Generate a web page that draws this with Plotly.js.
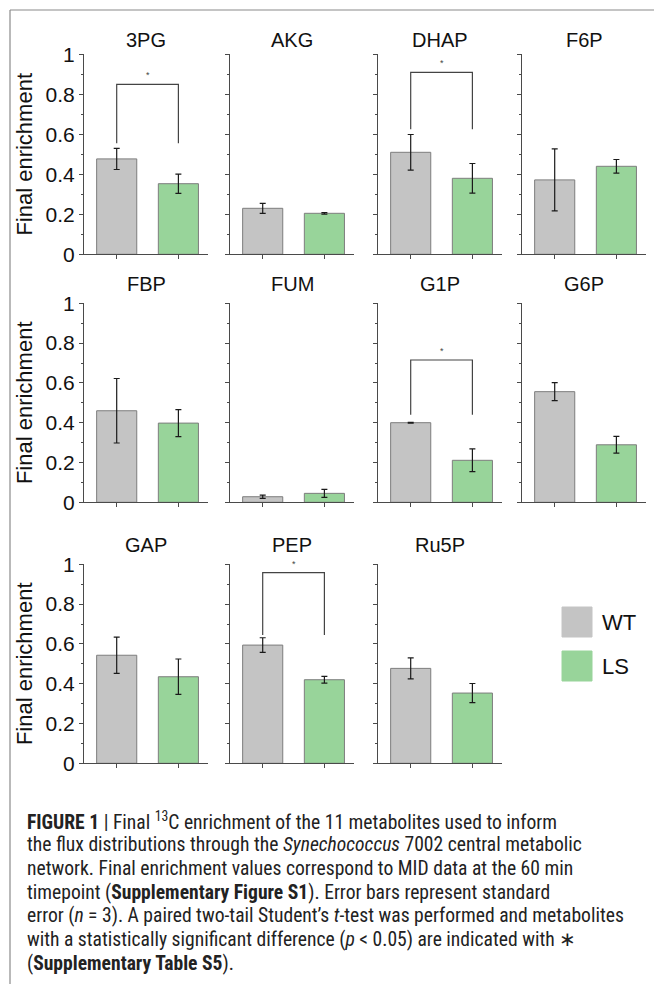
<!DOCTYPE html>
<html>
<head>
<meta charset="utf-8">
<script src="https://cdn.plot.ly/plotly-3.0.1.min.js"></script>
<style>
  html, body { margin: 0; padding: 0; background: #ffffff; }
  #chart { width: 654px; height: 984px; }
</style>
</head>
<body>
<div id="chart"></div>
<script>
// ---------------- data ----------------
const metabolites = ['3PG', 'AKG', 'DHAP', 'F6P', 'FBP', 'FUM', 'G1P', 'G6P', 'GAP', 'PEP', 'Ru5P'];
const groups = ['WT', 'LS'];
const wtMean = [0.477, 0.230, 0.510, 0.372, 0.460, 0.028, 0.400, 0.556, 0.543, 0.594, 0.477];
const wtErr  = [0.053, 0.025, 0.089, 0.155, 0.162, 0.008, 0.002, 0.045, 0.091, 0.037, 0.053];
const lsMean = [0.353, 0.205, 0.380, 0.440, 0.398, 0.045, 0.211, 0.289, 0.435, 0.420, 0.353];
const lsErr  = [0.048, 0.004, 0.074, 0.034, 0.068, 0.020, 0.057, 0.042, 0.089, 0.017, 0.048];
const sigMetabolites = ['3PG', 'DHAP', 'G1P', 'PEP'];
const sigBracketTop  = [0.850, 0.910, 0.715, 0.958];
const sigLegBottom   = [0.555, 0.625, 0.440, 0.645];
const yTickVals = [0, 0.2, 0.4, 0.6, 0.8, 1];
const yTickText = ['0', '0.2', '0.4', '0.6', '0.8', '1'];
const yTitle = 'Final enrichment';

// ---------------- styling / layout geometry ----------------
const W = 654, H = 984;
const colors = { WT: '#c4c4c4', LS: '#98d49a' };
const barLine = '#7d7d7d';
const axisColor = '#4a4a4a';
const fontFam = 'Liberation Sans';
const capFont = 'Roboto Condensed';
const colLeft = [84, 230, 378, 522];
const panelW = 124;
const rowTop = [54.3, 303.3, 564.3];
const rowBottom = [254.3, 502.3, 763.3];
const titleY = [40, 284, 545];

const px = v => v / W;
const py = v => 1 - v / H;

const data = [];
const layout = {
  width: W, height: H,
  margin: { l: 0, r: 0, t: 0, b: 0 },
  paper_bgcolor: '#ffffff',
  plot_bgcolor: 'rgba(0,0,0,0)',
  showlegend: false,
  font: { family: fontFam, color: '#111111' },
  annotations: [],
  shapes: []
};

metabolites.forEach((m, i) => {
  const row = Math.floor(i / 4), col = i % 4;
  const sfx = i === 0 ? '' : String(i + 1);
  data.push({
    type: 'bar',
    x: groups,
    y: [wtMean[i], lsMean[i]],
    width: 0.65,
    xaxis: 'x' + sfx, yaxis: 'y' + sfx,
    marker: { color: groups.map(g => colors[g]), line: { color: barLine, width: 1 } },
    error_y: { type: 'data', array: [wtErr[i], lsErr[i]], visible: true, color: '#1a1a1a', thickness: 1.2, width: 3 },
    hoverinfo: 'x+y', name: m
  });
  const x0 = colLeft[col];
  layout['xaxis' + sfx] = {
    domain: [px(x0), px(x0 + panelW)],
    anchor: 'y' + sfx,
    type: 'category',
    range: [-0.53, 1.48],
    showline: true, linecolor: axisColor, linewidth: 1,
    ticks: 'outside', ticklen: 4, tickcolor: axisColor, tickwidth: 1,
    showticklabels: false, showgrid: false, zeroline: false, fixedrange: true
  };
  const yax = {
    domain: [py(rowBottom[row]), py(rowTop[row])],
    anchor: 'x' + sfx,
    range: [0, 1],
    tickmode: 'array', tickvals: yTickVals, ticktext: yTickText,
    showline: true, linecolor: axisColor, linewidth: 1,
    ticks: 'outside', ticklen: 4, tickcolor: axisColor, tickwidth: 1,
    minor: { tickmode: 'linear', tick0: 0, dtick: 0.1, ticks: 'outside', ticklen: 2, tickcolor: axisColor, tickwidth: 1, showgrid: false },
    showgrid: false, zeroline: false, fixedrange: true,
    showticklabels: col === 0,
    tickfont: { size: 21, color: '#111111', family: fontFam }
  };
  if (col === 0) {
    yax.title = { text: yTitle, font: { size: 22, color: '#111111', family: fontFam }, standoff: 6 };
  }
  layout['yaxis' + sfx] = yax;
  // panel title
  layout.annotations.push({
    xref: 'paper', yref: 'paper', x: px(x0 + panelW / 2), y: py(titleY[row]),
    xanchor: 'center', yanchor: 'middle', showarrow: false,
    text: m, font: { size: 20, color: '#111111', family: fontFam }
  });
  // significance brackets
  const s = sigMetabolites.indexOf(m);
  if (s >= 0) {
    layout.shapes.push({
      type: 'path', xref: 'x' + sfx, yref: 'y' + sfx,
      path: `M 0,${sigLegBottom[s]} L 0,${sigBracketTop[s]} L 1,${sigBracketTop[s]} L 1,${sigLegBottom[s]}`,
      line: { color: '#444444', width: 1.2 }
    });
    layout.annotations.push({
      xref: 'x' + sfx, yref: 'y' + sfx, x: 0.5, y: sigBracketTop[s], yshift: 9,
      xanchor: 'center', yanchor: 'middle', showarrow: false,
      text: '*', font: { size: 9, color: '#444444', family: fontFam }
    });
  }
});

// legend (drawn manually with big swatches)
const legendTop = [607, 651];
groups.forEach((g, k) => {
  layout.shapes.push({
    type: 'rect', xref: 'paper', yref: 'paper',
    x0: px(562), x1: px(592), y0: py(legendTop[k] + 30), y1: py(legendTop[k]),
    fillcolor: colors[g], line: { color: colors[g], width: 1 }
  });
  layout.annotations.push({
    xref: 'paper', yref: 'paper', x: px(600), y: py(legendTop[k] + 15),
    xanchor: 'left', yanchor: 'middle', showarrow: false,
    text: g, font: { size: 22, color: '#111111', family: fontFam }
  });
});

// figure frame (top and left rules)
layout.shapes.push({ type: 'line', xref: 'paper', yref: 'paper', x0: px(10), x1: 1, y0: py(10), y1: py(10), line: { color: '#8a8a8a', width: 1.2 } });
layout.shapes.push({ type: 'line', xref: 'paper', yref: 'paper', x0: px(10), x1: px(10), y0: py(10), y1: 0, line: { color: '#8a8a8a', width: 1.2 } });

// caption
const captionLines = [
  '<b>FIGURE 1</b> | Final <sup>13</sup>C enrichment of the 11 metabolites used to inform',
  'the flux distributions through the <i>Synechococcus</i> 7002 central metabolic',
  'network. Final enrichment values correspond to MID data at the 60 min',
  'timepoint (<b>Supplementary Figure S1</b>). Error bars represent standard',
  'error (<i>n</i> = 3). A paired two-tail Student\u2019s <i>t</i>-test was performed and metabolites',
  'with a statistically significant difference (<i>p</i> &lt; 0.05) are indicated with \u2217',
  '(<b>Supplementary Table S5</b>).'
];
captionLines.forEach((t, k) => {
  layout.annotations.push({
    xref: 'paper', yref: 'paper', x: px(25), y: py(821 + k * 23.7),
    xanchor: 'left', yanchor: 'middle', showarrow: false, align: 'left',
    text: t, font: { size: 19.6, color: '#222222', family: capFont }
  });
});

Plotly.newPlot('chart', data, layout, { displayModeBar: false, staticPlot: true });
</script>
</body>
</html>
